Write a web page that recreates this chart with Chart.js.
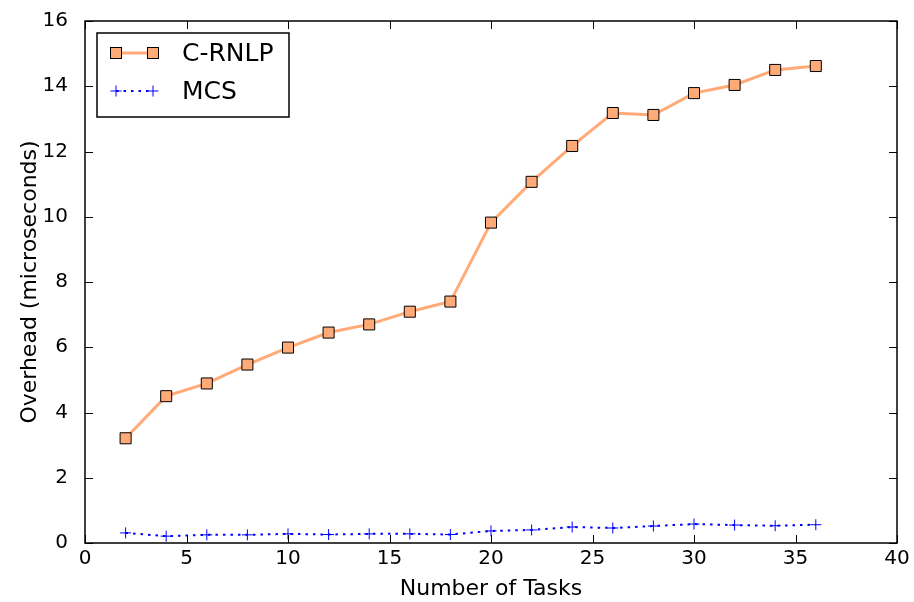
<!DOCTYPE html>
<html>
<head>
<meta charset="utf-8">
<script src="https://cdn.jsdelivr.net/npm/chart.js@4"></script>
<style>
  html, body { margin: 0; padding: 0; background: #fff; }
  #wrap { width: 914px; height: 602px; }
</style>
</head>
<body>
<div id="wrap"><canvas id="chart" width="914" height="602"></canvas></div>
<script>
// ── data ──
const tasks = [2, 4, 6, 8, 10, 12, 14, 16, 18, 20, 22, 24, 26, 28, 30, 32, 34, 36];
const crnlp = [3.21, 4.50, 4.89, 5.47, 5.99, 6.45, 6.70, 7.09, 7.40, 9.82, 11.07, 12.17, 13.18, 13.12, 13.79, 14.04, 14.50, 14.62];
const mcs   = [0.31, 0.21, 0.25, 0.25, 0.28, 0.26, 0.28, 0.28, 0.26, 0.37, 0.40, 0.49, 0.46, 0.52, 0.58, 0.55, 0.53, 0.56];
const xTicks = [0, 5, 10, 15, 20, 25, 30, 35, 40];
const yTicks = [0, 2, 4, 6, 8, 10, 12, 14, 16];

const FONT = 'DejaVu Sans';
const ORANGE = '#ffaa77';
const BLUE = '#0000ff';

// frame, inward ticks and legend, matplotlib classic style
const framePlugin = {
  id: 'frame',
  afterDraw(chart) {
    const { ctx, chartArea: a, scales: { x, y } } = chart;
    ctx.save();
    ctx.strokeStyle = '#000';
    ctx.lineWidth = 1;
    xTicks.forEach(v => {
      const px = Math.round(x.getPixelForValue(v)) + 0.5;
      ctx.beginPath();
      ctx.moveTo(px, a.bottom); ctx.lineTo(px, a.bottom - 8);
      ctx.moveTo(px, a.top); ctx.lineTo(px, a.top + 8);
      ctx.stroke();
    });
    yTicks.forEach(v => {
      const py = Math.round(y.getPixelForValue(v)) + 0.5;
      ctx.beginPath();
      ctx.moveTo(a.left, py); ctx.lineTo(a.left + 8, py);
      ctx.moveTo(a.right, py); ctx.lineTo(a.right - 8, py);
      ctx.stroke();
    });
    ctx.lineWidth = 1.5;
    ctx.strokeRect(a.left, a.top, a.right - a.left, a.bottom - a.top);

    // legend box
    const lx = 97, ly = 33, lw = 192, lh = 84;
    ctx.fillStyle = '#fff';
    ctx.fillRect(lx, ly, lw, lh);
    ctx.lineWidth = 1.5;
    ctx.strokeRect(lx, ly, lw, lh);

    // C-RNLP sample
    let yy = 53;
    ctx.strokeStyle = ORANGE;
    ctx.lineWidth = 3;
    ctx.beginPath(); ctx.moveTo(116, yy); ctx.lineTo(153, yy); ctx.stroke();
    [116, 153].forEach(cx => {
      ctx.fillStyle = ORANGE;
      ctx.fillRect(cx - 5.5, yy - 5.5, 11, 11);
      ctx.strokeStyle = '#000';
      ctx.lineWidth = 1;
      ctx.strokeRect(cx - 5.5, yy - 5.5, 11, 11);
    });
    // MCS sample
    yy = 91;
    ctx.strokeStyle = BLUE;
    ctx.lineWidth = 2;
    ctx.setLineDash([2.5, 5]);
    ctx.beginPath(); ctx.moveTo(116, yy); ctx.lineTo(153, yy); ctx.stroke();
    ctx.setLineDash([]);
    ctx.lineWidth = 1;
    [116, 153].forEach(cx => {
      ctx.beginPath();
      ctx.moveTo(cx - 5.5, yy); ctx.lineTo(cx + 5.5, yy);
      ctx.moveTo(cx, yy - 5.5); ctx.lineTo(cx, yy + 5.5);
      ctx.stroke();
    });

    ctx.fillStyle = '#000';
    ctx.font = `25px "${FONT}"`;
    ctx.textBaseline = 'middle';
    ctx.fillText('C-RNLP', 182, 54);
    ctx.fillText('MCS', 182, 92);
    ctx.restore();
  }
};

new Chart(document.getElementById('chart'), {
  type: 'line',
  data: {
    datasets: [
      {
        label: 'C-RNLP',
        data: tasks.map((t, i) => ({ x: t, y: crnlp[i] })),
        borderColor: ORANGE,
        borderWidth: 3,
        backgroundColor: ORANGE,
        pointStyle: 'rect',
        pointRadius: 7.8,
        pointBorderColor: '#000',
        pointBorderWidth: 1,
        pointBackgroundColor: ORANGE,
        tension: 0,
      },
      {
        label: 'MCS',
        data: tasks.map((t, i) => ({ x: t, y: mcs[i] })),
        borderColor: BLUE,
        borderWidth: 2,
        borderDash: [2.5, 5],
        pointStyle: 'cross',
        pointRadius: 5.5,
        pointBorderColor: BLUE,
        pointBorderWidth: 1,
        tension: 0,
      },
    ],
  },
  options: {
    responsive: false,
    animation: false,
    layout: { padding: { top: 20, right: 17, left: 0, bottom: 0 } },
    plugins: { legend: { display: false }, tooltip: { enabled: false } },
    scales: {
      x: {
        type: 'linear', min: 0, max: 40,
        afterBuildTicks: s => { s.ticks = xTicks.map(v => ({ value: v })); },
        afterFit: s => { s.height = 59; s.paddingRight = 0; },
        grid: { display: false, drawTicks: false },
        border: { display: false },
        ticks: { color: '#000', font: { family: FONT, size: 20 }, padding: 4, maxRotation: 0 },
        title: { display: true, text: 'Number of Tasks', color: '#000', font: { family: FONT, size: 22 }, padding: { top: 0, bottom: 0 } },
      },
      y: {
        type: 'linear', min: 0, max: 16,
        afterBuildTicks: s => { s.ticks = yTicks.map(v => ({ value: v })); },
        afterFit: s => { s.width = 85; },
        grid: { display: false },
        border: { display: false },
        ticks: { color: '#000', font: { family: FONT, size: 20 }, padding: 9 },
        title: { display: true, text: 'Overhead (microseconds)', color: '#000', font: { family: FONT, size: 22 }, padding: { top: 17, bottom: 0 } },
      },
    },
  },
  plugins: [framePlugin],
});
</script>
</body>
</html>
